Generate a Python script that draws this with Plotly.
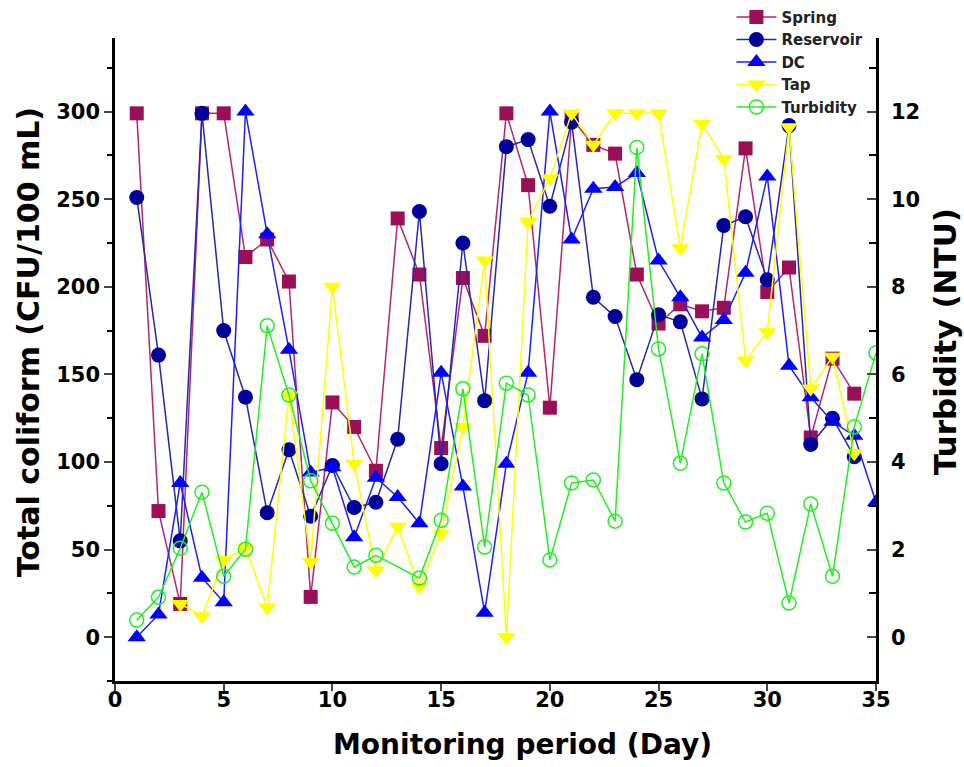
import plotly.graph_objects as go

days_spring = list(range(1, 35))
spring = [299, 72, 19, 299, 299, 217, 227, 203, 23, 134, 120, 95, 239, 207, 108, 205, 172, 299, 258, 131,
          296, 281, 276, 207, 179, 190, 186, 188, 279, 197, 211, 114, 159, 139]

days_res = list(range(1, 35))
reservoir = [251, 161, 55, 299, 175, 137, 71, 107, 69, 98, 74, 77, 113, 243, 99, 225, 135, 280, 284, 246,
             294, 194, 183, 147, 184, 180, 136, 235, 240, 204, 292, 110, 125, 103]

days_dc = list(range(1, 36))
dc = [0, 13, 88, 34, 20, 300, 230, 164, 94, 97, 57, 91, 80, 65, 151, 86, 14, 99, 151, 300,
      227, 256, 257, 265, 215, 194, 171, 181, 208, 263, 155, 137, 123, 115, 77]

days_tap = list(range(3, 35))
tap = [19, 12, 44, 51, 17, 138, 43, 200, 99, 38, 63, 29, 59, 120, 215, 0, 237, 262,
       299, 281, 299, 299, 299, 222, 293, 273, 158, 174, 291, 142, 160, 105]

days_turb = [1, 2, 3, 4, 5, 6, 7, 8, 9, 10, 11, 12, 14, 15, 16, 17, 18, 19, 20, 21, 22, 23, 24, 25,
             26, 27, 28, 29, 30, 31, 32, 33, 34, 35]
turbidity = [0.39, 0.91, 2.03, 3.31, 1.39, 2.01, 7.11, 5.53, 3.57, 2.6, 1.6, 1.87, 1.35, 2.67, 5.67,
             2.06, 5.8, 5.53, 1.76, 3.52, 3.59, 2.65, 11.18, 6.58, 3.97, 6.47, 3.52, 2.63, 2.83, 0.78,
             3.04, 1.39, 4.8, 6.49]

x_ticks = [0, 5, 10, 15, 20, 25, 30, 35]
y_ticks = [0, 50, 100, 150, 200, 250, 300]
y2_ticks = [0, 2, 4, 6, 8, 10, 12]

fig = go.Figure()
fig.add_trace(go.Scatter(x=days_spring, y=spring, name="Spring", mode="lines+markers",
                         line=dict(color="#B3266E", width=1.5),
                         marker=dict(symbol="square", size=14, color="#9B0F57")))
fig.add_trace(go.Scatter(x=days_res, y=reservoir, name="Reservoir", mode="lines+markers",
                         line=dict(color="#2626B0", width=1.5),
                         marker=dict(symbol="circle", size=15, color="#00009A")))
fig.add_trace(go.Scatter(x=days_dc, y=dc, name="DC", mode="lines+markers",
                         line=dict(color="#1E1EFF", width=1.5),
                         marker=dict(symbol="triangle-up", size=16, color="#0000FF")))
fig.add_trace(go.Scatter(x=days_tap, y=tap, name="Tap", mode="lines+markers",
                         line=dict(color="#FFFF00", width=1.5),
                         marker=dict(symbol="triangle-down", size=16, color="#FFFF00")))
fig.add_trace(go.Scatter(x=days_turb, y=turbidity, name="Turbidity", mode="lines+markers", yaxis="y2",
                         line=dict(color="#22EE22", width=1.5),
                         marker=dict(symbol="circle-open", size=14, color="#22EE22", line=dict(width=1.5))))

fam = "DejaVu Sans"
fig.update_layout(
    width=964, height=767,
    margin=dict(l=115, r=88, t=38, b=86, autoexpand=False),
    paper_bgcolor="white", plot_bgcolor="white",
    font=dict(family=fam, color="black"),
    showlegend=True,
    legend=dict(x=0.81, y=1.058, xanchor="left", yanchor="top", bgcolor="rgba(0,0,0,0)",
                font=dict(family=fam, size=15, color="#222222", weight="bold"),
                itemwidth=40, tracegroupgap=0),
    xaxis=dict(range=[0, 35], tickvals=x_ticks, ticktext=[f"<b>{v}</b>" for v in x_ticks],
               showline=True, linecolor="black", linewidth=2.5, ticks="outside", ticklen=7, tickwidth=2,
               ticklabelstandoff=-9,
               showgrid=False, zeroline=False, tickfont=dict(size=21, color="black")),
    yaxis=dict(range=[-25, 342], tickvals=y_ticks, ticktext=[f"<b>{v}</b>" for v in y_ticks],
               showline=True, linecolor="black", linewidth=2.5, ticks="outside", ticklen=8, tickwidth=2,
               minor=dict(dtick=25, tick0=0, ticks="outside", ticklen=5, tickwidth=2, tickcolor="black"),
               showgrid=False, zeroline=False, tickfont=dict(size=21, color="black")),
    yaxis2=dict(range=[-1.0, 13.68], overlaying="y", side="right", tickvals=y2_ticks,
                ticktext=[f"<b>{v}</b>" for v in y2_ticks],
                showline=True, linecolor="black", linewidth=2.5, ticks="inside", ticklen=9, tickwidth=2,
                ticklabelstandoff=8,
                minor=dict(dtick=1, tick0=0, ticks="inside", ticklen=7, tickwidth=2, tickcolor="black"),
                showgrid=False, zeroline=False, tickfont=dict(size=21, color="black")),
    annotations=[
        dict(text="<b>Monitoring period (Day)</b>", xref="paper", yref="paper", x=0.535, y=-0.0995,
             xanchor="center", yanchor="middle", showarrow=False, font=dict(size=28, color="black")),
        dict(text="<b>Total coliform (CFU/100 mL)</b>", xref="paper", yref="paper", x=-0.1143, y=0.527,
             xanchor="center", yanchor="middle", textangle=-90, showarrow=False,
             font=dict(size=30, color="black")),
        dict(text="<b>Turbidity (NTU)</b>", xref="paper", yref="paper", x=1.0907, y=0.527,
             xanchor="center", yanchor="middle", textangle=-90, showarrow=False,
             font=dict(size=31, color="black")),
    ],
)

fig.write_html("out.html")
